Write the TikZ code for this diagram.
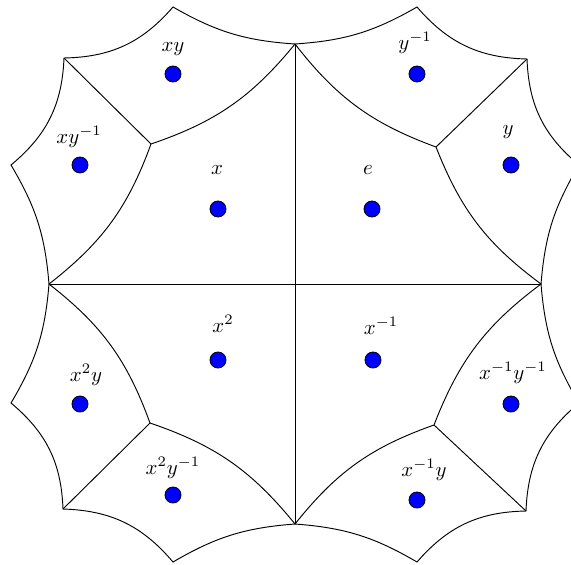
\documentclass[tikz,border=0pt]{standalone}
\tikzset{
  edge/.style={line width=0.45pt, black},
  dot/.style={circle, draw=black, fill=blue, line width=0.4pt, minimum size=7.7pt, inner sep=0pt},
  lab/.style={inner sep=0pt},
  arcA/.style={bend left=13},
  arcB/.style={bend left=24},
  arcC/.style={bend left=16}
}
\begin{document}
\begin{tikzpicture}[x=0.48pt,y=0.48pt]
\useasboundingbox (0,0) rectangle (571,564);
\clip (0,0) rectangle (571,564);
% axis vertices
\coordinate (T) at (295,520);
\coordinate (B) at (295,40);
\coordinate (L) at (49,280);
\coordinate (R) at (541,280);
% inner junctions
\coordinate (P1) at (151,420);
\coordinate (P2) at (436,417);
\coordinate (P3) at (150,141);
\coordinate (P4) at (434,139);
% outer cusps
\coordinate (A1) at (173,557);
\coordinate (A2) at (417,557);
\coordinate (U1) at (64,506);
\coordinate (U2) at (527,505);
\coordinate (E1) at (11,399);
\coordinate (E2) at (11,161);
\coordinate (F1) at (579,399);
\coordinate (F2) at (579,161);
\coordinate (U3) at (63,55);
\coordinate (U4) at (526,53);
\coordinate (D1) at (173,2);
\coordinate (D2) at (417,2);
% axes
\draw[edge] (T) -- (B);
\draw[edge] (L) -- (R);
% outer boundary
\draw[edge] (T) to[arcA] (A1) to[arcB] (U1) to[arcB] (E1) to[arcA] (L)
  to[arcA] (E2) to[arcB] (U3) to[arcB] (D1) to[arcA] (B)
  to[arcA] (D2) to[arcB] (U4) to[arcB] (F2) to[arcA] (R)
  to[arcA] (F1) to[arcB] (U2) to[arcB] (A2) to[arcA] (T);
% inner arcs
\draw[edge] (T) to[arcC] (P1) to[arcC] (L);
\draw[edge] (L) to[arcC] (P3) to[arcC] (B);
\draw[edge] (B) to[arcC] (P4) to[arcC] (R);
\draw[edge] (R) to[arcC] (P2) to[arcC] (T);
% diagonal segments
\draw[edge] (P1) -- (U1);
\draw[edge] (P2) -- (U2);
\draw[edge] (P3) -- (U3);
\draw[edge] (P4) -- (U4);
% dots
\node[dot] (dxy) at (173,490) {};
\node[dot] (dxyi) at (80,399) {};
\node[dot] (dx) at (218,355) {};
\node[dot] (dyi) at (417,490) {};
\node[dot] (dy) at (511,399) {};
\node[dot] (de) at (372,355) {};
\node[dot] (dxx) at (218,204) {};
\node[dot] (dxxy) at (80,160) {};
\node[dot] (dxxyi) at (173,69) {};
\node[dot] (dxi) at (373,204) {};
\node[dot] (dxiyi) at (511,160) {};
\node[dot] (dxiy) at (417,64) {};
% labels
\node[lab] (lxy) at (173,515) {$xy$};
\node[lab] (lxyi) at (79,427) {$xy^{-1}$};
\node[lab] (lx) at (217,394) {$x$};
\node[lab] (lyi) at (415,521) {$y^{-1}$};
\node[lab] (ly) at (508,432) {$y$};
\node[lab] (le) at (368,394) {$e$};
\node[lab] (lxx) at (223,240) {$x^2$};
\node[lab] (lxxy) at (86,189) {$x^2y$};
\node[lab] (lxxyi) at (173,96) {$x^2y^{-1}$};
\node[lab] (lxi) at (381,238) {$x^{-1}$};
\node[lab] (lxiyi) at (513,191) {$x^{-1}y^{-1}$};
\node[lab] (lxiy) at (424,94) {$x^{-1}y$};
\end{tikzpicture}
\end{document}
